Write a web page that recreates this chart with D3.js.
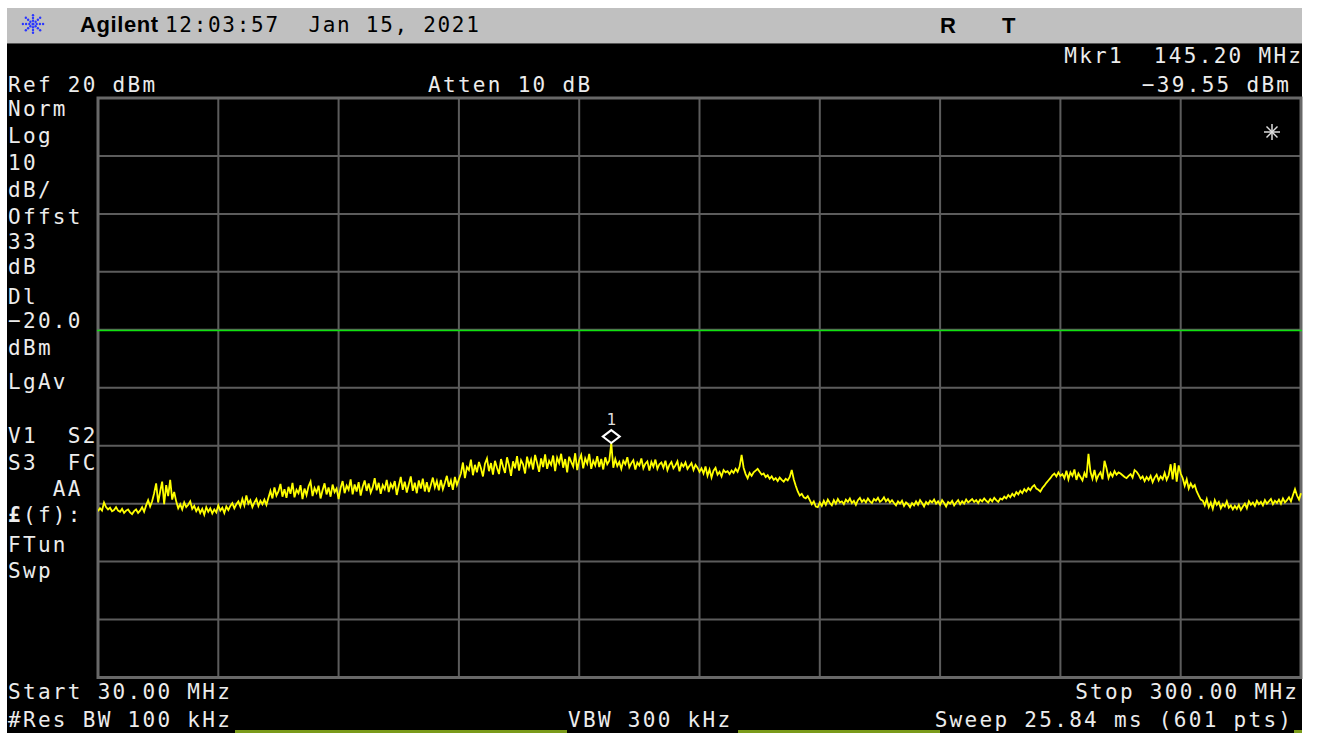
<!DOCTYPE html>
<html><head><meta charset="utf-8">
<script src="https://cdn.jsdelivr.net/npm/d3@7"></script>
<style>
body{margin:0;background:#fff;overflow:hidden;}
text{font-family:"DejaVu Sans Mono",monospace;}
</style>
</head><body><svg id="c" width="1317" height="733"></svg>
<script>
// ---------- data ----------
const startMHz = 30, stopMHz = 300, sweepPoints = 601;
const refLevelDbm = 20, bottomLevelDbm = -80;
const displayLineDbm = -20;
const markerMHz = 145.20, markerDbm = -39.55;
const freqGridMHz = [30, 57, 84, 111, 138, 165, 192, 219, 246, 273, 300];
const levelGridDbm = [20, 10, 0, -10, -20, -30, -40, -50, -60, -70, -80];

const traceDbm = [
-51.3,-50.8,-51.2,-49.8,-50.6,-51.0,-50.7,-51.3,-51.1,-50.6,-51.2,-51.4,-50.9,-51.6,-51.2,-51.0,-51.5,-51.8,-51.3,-51.0,-51.6,-51.2,-50.6,-51.4,-50.3,-49.4,-50.5,-49.6,
-48.2,-46.5,-49.8,-47.9,-46.2,-50.1,-46.8,-48.7,-45.9,-49.3,-48.0,
-49.6,-50.8,-50.1,-51.0,-49.8,-50.6,-50.2,-49.6,-50.9,-50.4,-51.3,-50.7,-51.6,-50.9,-51.9,-50.6,-51.4,-50.8,-51.7,-51.0,-51.5,-50.3,-51.2,-50.7,-51.6,-50.5,-51.1,
-50.4,-49.9,-50.8,-50.1,-49.6,-50.5,-49.2,-50.3,-48.6,-50.0,-49.4,-50.6,-49.8,-49.2,-50.4,-49.5,-50.1,-49.3,-50.2,-49.0,
-47.8,-49.1,-47.2,-48.6,-47.9,-46.6,-48.8,-47.5,-49.0,-47.1,-48.3,-46.4,-48.9,-47.6,-48.2,-46.8,-49.2,-47.4,-48.5,-47.0,-46.2,-48.7,-47.3,-48.1,-46.9,-49.1,-47.7,-46.5,-48.4,-47.2,-48.8,-46.7,-48.0,-47.4,-49.2,
-47.3,-46.1,-48.2,-46.9,-47.6,-45.8,-48.4,-46.7,-47.9,-46.3,-48.6,-47.1,-46.0,-47.8,-46.5,-48.1,-47.2,-45.6,-47.7,-46.4,-48.3,-46.8,-47.5,-45.9,-48.0,-46.6,-47.3,-46.1,-48.5,-46.9,
-45.4,-47.6,-46.2,-48.1,-46.7,-45.3,-47.8,-46.4,-48.2,-46.0,-47.4,-45.7,-47.9,-46.3,-48.0,-46.8,-45.5,-47.2,-46.1,-47.7,-45.9,-47.5,-46.4,-45.2,-47.1,-46.0,-47.6,-45.4,-46.8,-45.8,
-44.8,-42.9,-45.6,-43.7,-44.2,-42.4,-45.1,-43.3,-44.6,-42.8,-43.9,-45.3,-43.1,-42.2,-44.4,-43.0,-45.0,-42.6,-43.8,-44.9,
-42.3,-43.6,-44.7,-42.0,-43.4,-45.2,-42.7,-43.9,-41.8,-44.3,-42.5,-43.2,-44.8,-41.9,-43.5,-42.4,-44.1,-41.6,-43.0,-44.5,
-42.2,-43.7,-41.5,-44.0,-42.6,-43.3,-41.7,-44.4,-42.1,-43.0,-41.4,-43.8,-42.3,-44.6,-41.9,-42.8,-43.6,-41.3,-44.2,-42.5,
-41.6,-43.9,-42.2,-43.1,-41.4,-44.0,-42.6,-43.4,-41.8,-43.7,-42.3,-44.1,-42.0,-43.2,-42.6,
-39.55,
-43.8,-42.3,-43.5,-42.8,-44.0,-42.6,-43.2,-42.0,-43.7,-43.0,-42.5,-44.1,-42.9,-43.4,-42.2,-43.9,-43.1,-42.7,-44.3,-42.8,
-43.6,-42.4,-44.0,-43.2,-42.9,-43.8,-42.6,-44.2,-43.3,-42.8,-43.9,-43.4,-42.7,-44.4,-43.1,-43.6,-42.9,-44.0,-43.5,-43.0,
-44.2,-43.3,-43.8,-44.5,
-43.9,-44.8,-43.6,-45.2,-44.1,-45.5,-44.3,-43.8,-45.0,-44.5,-45.3,-44.2,-44.6,-44.4,-44.9,-44.3,-44.7,-44.0,-44.5,-43.6,
-41.6,
-43.8,-44.9,-45.6,-44.7,-45.2,-44.6,-44.3,-44.0,-44.5,-45.0,-44.8,-45.4,-45.1,-45.7,-45.3,-45.9,-45.6,-46.1,-45.5,-45.9,-46.2,-45.7,-46.0,-45.4,
-44.2,
-45.8,-46.9,-47.9,-48.6,-48.3,-48.9,-49.1,-48.7,-49.4,-50.1,-49.6,-50.5,
-50.6,-49.8,-50.4,-49.5,-50.2,-49.3,-49.9,-50.3,-49.4,-50.0,-49.2,-49.8,-49.6,-50.1,-49.3,-49.7,-49.1,-49.9,-49.5,-50.2,
-49.4,-49.0,-49.7,-49.3,-49.8,-49.1,-49.6,-49.9,-49.2,-49.5,-49.0,-49.7,-49.4,-48.9,-49.6,-49.2,-49.8,-49.4,-49.9,-50.3,
-49.6,-50.0,-49.5,-50.4,-49.8,-50.1,-50.6,-49.9,-50.3,-49.6,-50.2,-49.4,-49.9,-50.5,-49.7,-50.1,-49.5,-49.8,-49.3,-50.0,
-49.6,-50.2,-49.4,-49.9,-50.5,-49.7,-50.0,-49.5,-50.3,-49.8,-49.4,-50.1,-49.6,-50.0,-49.3,-49.8,-49.5,-49.2,-49.7,-49.4,
-49.9,-49.3,-49.6,-49.1,-49.5,-49.8,-49.2,-49.6,-49.0,-49.4,-49.7,-49.1,
-49.3,-48.8,-49.1,-48.5,-48.9,-48.3,-48.7,-48.0,-48.4,-47.8,-48.2,-47.5,-47.9,-47.3,-47.7,-47.1,-46.8,-47.4,-47.6,-47.9,-47.3,-46.9,-46.4,-46.0,-45.6,-45.1,-44.8,-45.3,-44.6,-45.2,
-44.9,-45.6,-44.3,-45.8,-44.6,-45.2,-44.1,-45.9,-44.8,-45.4,-46.0,-44.7,-45.5,
-41.4,
-44.5,-45.7,-44.2,-45.9,-45.1,-44.6,-45.8,
-42.6,
-43.9,-45.6,
-44.7,-45.3,-44.4,-45.0,-44.6,-44.8,-45.1,-45.4,-45.6,-45.2,-44.9,-45.5,-44.2,-44.5,-45.0,-45.7,-45.3,-46.1,-45.4,-45.9,-45.2,-46.3,-45.5,-45.0,-46.0,-45.3,-45.8,-44.7,-45.9,-45.1,
-43.2,-45.8,-43.0,-46.2,-43.4,-44.8,
-45.6,-46.9,-45.8,-47.4,-46.5,-47.2,-46.8,-47.9,-48.6,-49.3,
-49.5,-50.3,-49.2,-50.6,-49.8,-50.9,-49.4,-50.2,-49.7,-50.8,-50.1,-50.5,-49.6,-50.7,-50.3,-51.0,-50.4,-50.9,-50.2,-51.1,
-50.5,-50.0,-50.8,-49.6,-50.2,-49.8,-50.4,-49.5,-50.1,-49.7,-50.3,-49.4,-50.0,-49.6,-49.2,-50.1,-49.5,-49.9,-49.3,-50.0,
-49.1,-49.8,-49.4,-48.9,-49.6,-48.5,-47.5,-48.6,-49.3,-48.2
];

const headerTitle = "Agilent";
const headerTime = "12:03:57  Jan 15, 2021";
const headerFlags = ["R", "T"];
const topLeftText = "Ref 20 dBm";
const topCenterText = "Atten 10 dB";
const markerLine1 = "Mkr1  145.20 MHz";
const markerLine2 = "\u221239.55 dBm";
const leftLabels = ["Norm","Log","10","dB/","Offst","33","dB","Dl","\u221220.0","dBm","LgAv","V1  S2","S3  FC","   AA","\u00a3(f):","FTun","Swp"];
const leftBaselines = [116,143,170,197,224,249,274,304,328,355,389,443,470,496,522,552,578];
const bottomTexts = [
  {t:"Start 30.00 MHz", x:8, y:699, a:"start"},
  {t:"Stop 300.00 MHz", x:1297, y:699, a:"end"},
  {t:"#Res BW 100 kHz", x:8, y:727, a:"start"},
  {t:"VBW 300 kHz", x:568, y:727, a:"start"},
  {t:"Sweep 25.84 ms (601 pts)", x:1291, y:727, a:"end"}
];

// ---------- drawing ----------
const svg = d3.select("#c");
const W = 1317, H = 733;
const x = d3.scaleLinear().domain([startMHz, stopMHz]).range([98, 1301]);
const y = d3.scaleLinear().domain([refLevelDbm, bottomLevelDbm]).range([98, 677.5]);
const txt = "#ececec";
const FS = 21, LS = 2.3;

// title bar + screen
svg.append("rect").attr("x",7).attr("y",8).attr("width",1295).attr("height",36).attr("fill","#c0c0c0");
svg.append("rect").attr("x",7).attr("y",44).attr("width",1295).attr("height",H-44).attr("fill","#000");
svg.append("line").attr("x1",7).attr("x2",1302).attr("y1",43.5).attr("y2",43.5).attr("stroke","#555").attr("stroke-width",1);

// Agilent logo (dotted starburst)
const logo = svg.append("g").attr("transform","translate(33,24)");
for (let k=0;k<8;k++){
  const ang = k*Math.PI/4;
  [3.2,6,8.8].forEach(r=>{
    logo.append("circle").attr("cx",Math.cos(ang)*r*1.15).attr("cy",Math.sin(ang)*r).attr("r",1.2).attr("fill","#2a36ff");
  });
}
logo.append("circle").attr("r",1.6).attr("fill","#2a36ff");

svg.append("text").attr("x",80).attr("y",32).text(headerTitle)
  .style("font-family","'Liberation Sans',Arial,sans-serif").style("font-weight","bold")
  .style("font-size","22px").style("letter-spacing","0.6px").attr("fill","#000");
svg.append("text").attr("x",165).attr("y",32).text(headerTime)
  .style("font-size","21px").style("letter-spacing","1.7px").attr("fill","#000").style("white-space","pre");
svg.selectAll("text.flag").data(headerFlags).join("text").attr("class","flag")
  .attr("x",(d,i)=>[940,1002][i]).attr("y",33).text(d=>d)
  .style("font-family","'Liberation Sans',Arial,sans-serif").style("font-weight","bold").style("font-size","22px").attr("fill","#000");

// grid
const g = svg.append("g");
g.selectAll("line.v").data(freqGridMHz.slice(1,-1)).join("line").attr("class","v")
  .attr("x1",d=>x(d)).attr("x2",d=>x(d)).attr("y1",y(refLevelDbm)).attr("y2",y(bottomLevelDbm))
  .attr("stroke","#5c5c5c").attr("stroke-width",2);
g.selectAll("line.h").data(levelGridDbm.slice(1,-1)).join("line").attr("class","h")
  .attr("x1",x(startMHz)).attr("x2",x(stopMHz)).attr("y1",d=>y(d)).attr("y2",d=>y(d))
  .attr("stroke","#5c5c5c").attr("stroke-width",2);
g.append("rect").attr("x",x(startMHz)).attr("y",y(refLevelDbm))
  .attr("width",x(stopMHz)-x(startMHz)).attr("height",y(bottomLevelDbm)-y(refLevelDbm))
  .attr("fill","none").attr("stroke","#686868").attr("stroke-width",3);

// display line
const dly = Math.round(y(displayLineDbm)) + 0.5;
svg.append("line").attr("x1",x(startMHz)-1).attr("x2",1302).attr("y1",dly).attr("y2",dly)
  .attr("stroke","#10e010").attr("stroke-width",1.5);

// trace
svg.append("clipPath").attr("id","clip").append("rect")
  .attr("x",x(startMHz)).attr("y",y(refLevelDbm)).attr("width",x(stopMHz)-x(startMHz)+1).attr("height",y(bottomLevelDbm)-y(refLevelDbm));
const step = (stopMHz-startMHz)/(sweepPoints-1);
const line = d3.line().x((d,i)=>x(startMHz+i*step)).y(d=>y(d));
svg.append("path").datum(traceDbm).attr("clip-path","url(#clip)").attr("d",line)
  .attr("fill","none").attr("stroke","#ffff00").attr("stroke-width",1.8).attr("stroke-linejoin","miter");

// marker
const mx = x(markerMHz), my = y(markerDbm);
svg.append("path").attr("d",`M${mx},${my-13} L${mx+8.5},${my-6.5} L${mx},${my} L${mx-8.5},${my-6.5} Z`)
  .attr("fill","none").attr("stroke","#fff").attr("stroke-width",2);
svg.append("text").attr("x",mx).attr("y",my-18).attr("text-anchor","middle").text("1")
  .style("font-size","16px").attr("fill","#ddd");

// asterisk
const ast = svg.append("g").attr("transform","translate(1272,132)").attr("stroke","#ddd").attr("stroke-width",1.5);
ast.append("line").attr("x1",0).attr("x2",0).attr("y1",-8).attr("y2",8);
ast.append("line").attr("x1",-8).attr("x2",8).attr("y1",0).attr("y2",0);
ast.append("line").attr("x1",-5.5).attr("x2",5.5).attr("y1",-5.5).attr("y2",5.5);
ast.append("line").attr("x1",-5.5).attr("x2",5.5).attr("y1",5.5).attr("y2",-5.5);

// screen texts
function T(t, xx, yy, anchor){
  return svg.append("text").attr("x", anchor==="end" ? xx+LS : xx).attr("y",yy)
    .attr("text-anchor",anchor||"start").attr("fill",txt)
    .style("font-size",FS+"px").style("letter-spacing",LS+"px").style("white-space","pre").text(t);
}
T(topLeftText, 8, 92);
T(topCenterText, 428, 92);
T(markerLine1, 1301, 63, "end");
T(markerLine2, 1289, 92, "end");

leftLabels.forEach((t,i)=>{
  if (t.startsWith("\u00a3")) {
    const el = svg.append("text").attr("x",8).attr("y",leftBaselines[i]).attr("fill",txt)
      .style("font-size",FS+"px").style("letter-spacing",LS+"px").style("white-space","pre");
    el.append("tspan").style("font-weight","bold").text(t[0]);
    el.append("tspan").text(t.slice(1));
  } else {
    T(t, 8, leftBaselines[i]);
  }
});

bottomTexts.forEach(d=>T(d.t, d.x, d.y, d.a));

// softkey indicator bars at bottom edge
const bars = [[235,567],[738,940],[1294,1302]];
svg.selectAll("rect.sk").data(bars).join("rect").attr("class","sk")
  .attr("x",d=>d[0]).attr("y",730).attr("width",d=>d[1]-d[0]).attr("height",3).attr("fill","#7a9a1a");
</script>
</body></html>
